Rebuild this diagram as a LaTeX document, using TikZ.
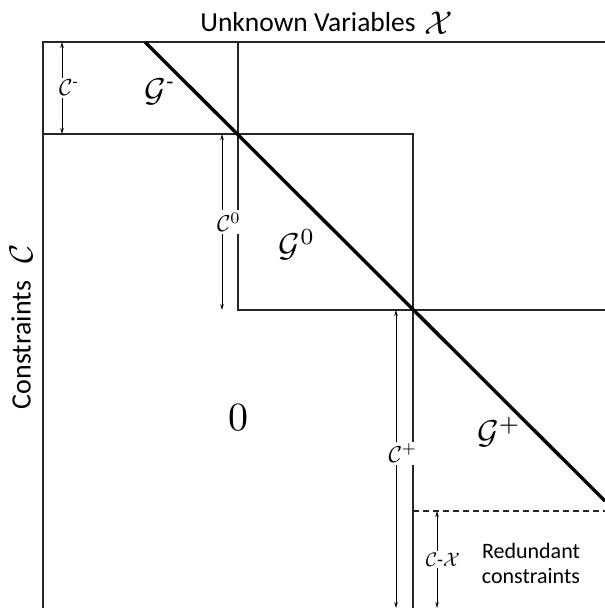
\documentclass[tikz,border=0pt]{standalone}
\usepackage{amsmath}
\usepackage{fontspec}
\setmainfont{Carlito}
\usetikzlibrary{arrows.meta}
\begin{document}
\begin{tikzpicture}[x=1pt,y=-1pt,
  frame/.style={line width=1.5pt,black!85},
  diag/.style={line width=3.4pt,black},
  dim/.style={line width=0.9pt,{Stealth[length=6pt,width=3.5pt]}-{Stealth[length=6pt,width=3.5pt]}},
  dimlab/.style={fill=white,inner sep=1pt,scale=2.3,font=\fontsize{10}{10}\selectfont},
  glab/.style={scale=3.3,font=\fontsize{10}{10}\selectfont},
  bigm/.style={inner sep=0pt,scale=3.3,font=\fontsize{10}{10}\selectfont},
  ttl/.style={font=\fontsize{27.5}{27.5}\selectfont}]
\useasboundingbox (0,0) rectangle (605,608);
% key points
\coordinate (A) at (43,42);
\coordinate (AR) at (605,42);
\coordinate (AB) at (43,608);
\coordinate (B) at (238,42);
\coordinate (P1) at (238,134);
\coordinate (L1) at (43,134);
\coordinate (Q1) at (413,134);
\coordinate (P2) at (413,310);
\coordinate (R2) at (605,310);
\coordinate (Q2) at (238,310);
\coordinate (Q2b) at (413,608);
\coordinate (D0) at (145,42);
\coordinate (D1) at (605,501);
\coordinate (E1) at (413,511);
\coordinate (E2) at (605,511);
% frame
\draw[frame] (AB) -- (A) -- (AR);
\draw[frame] (B) -- (P1);
\draw[frame] (L1) -- (Q1) -- (Q2b);
\draw[frame] (P1) -- (Q2) -- (R2);
\draw[frame,dashed,dash pattern=on 6pt off 4pt,line width=1.1pt] (E1) -- (E2);
\draw[diag] (D0) -- (D1);
% dimension arrows
\coordinate (cm1) at (62,42); \coordinate (cm2) at (62,134);
\coordinate (c01) at (222,134); \coordinate (c02) at (222,310);
\coordinate (cp1) at (396,310); \coordinate (cp2) at (396,608);
\coordinate (cx1) at (437,511); \coordinate (cx2) at (437,608);
\draw[dim] (cm1) -- node[dimlab,xshift=3pt] (lcm) {$\mathcal{C}^{\text{-}}$} (cm2);
\draw[dim] (c01) -- node[dimlab,xshift=3pt] (lc0) {$\mathcal{C}^{0}$} (c02);
\draw[dim] (cp1) -- node[dimlab,xshift=3pt,pos=0.48] (lcp) {$\mathcal{C}^{+}$} (cp2);
\draw[dim] (cx1) -- node[dimlab,scale=0.85,xshift=3pt] (lcx) {$\mathcal{C}\text{-}\mathcal{X}$} (cx2);
% labels
\node[glab] (gm) at (160,92) {$\mathcal{G}^{\text{-}}$};
\node[glab] (g0) at (297,245) {$\mathcal{G}^{0}$};
\node[glab] (gp) at (499,432) {$\mathcal{G}^{+}$};
\node[scale=4,font=\fontsize{10}{10}\selectfont] (zero) at (238,418) {$0$};
\node[ttl] (title) at (308,22) {Unknown Variables};
\node[bigm,anchor=west] (tx) at ([xshift=5pt,yshift=-1pt]title.east) {$\mathcal{X}$};
\node[font=\fontsize{28}{28}\selectfont,rotate=90] (cons) at (21,345) {Constraints};
\node[bigm,rotate=90] (cc) at (21,254) {$\mathcal{C}$};
\node[font=\fontsize{22}{25}\selectfont,align=center] (red) at (531,563) {Redundant\\constraints};
\end{tikzpicture}
\end{document}
